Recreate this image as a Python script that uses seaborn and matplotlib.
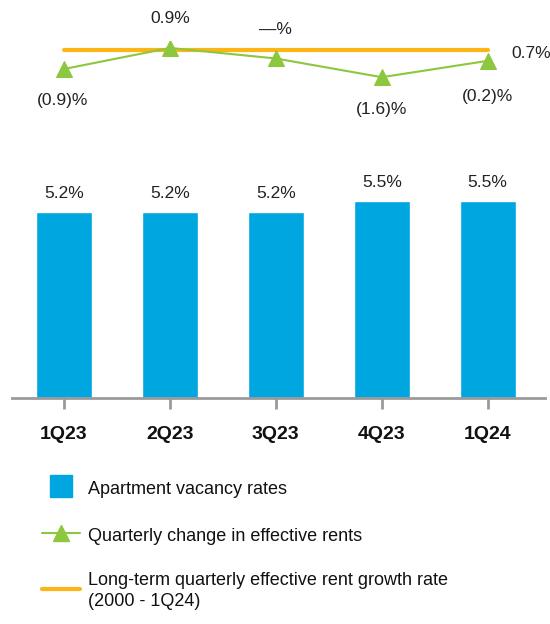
import numpy as np
import matplotlib
matplotlib.use("Agg")
import matplotlib.pyplot as plt
from matplotlib.lines import Line2D
import seaborn as sns

# data
quarters = ["1Q23", "2Q23", "3Q23", "4Q23", "1Q24"]
vacancy = [5.2, 5.2, 5.2, 5.5, 5.5]
rent_change = [-0.9, 0.9, 0.0, -1.6, -0.2]
rent_labels = ["(0.9)%", "0.9%", "—%", "(1.6)%", "(0.2)%"]
long_term_rate = 0.7

blue = "#00A6E0"
green = "#8DC63F"
orange = "#FDB515"

sns.set_style("white")
plt.rcParams["font.family"] = ["Liberation Sans", "DejaVu Sans"]

fig = plt.figure(figsize=(5.5, 6.24), dpi=100)
ax_bar = fig.add_axes([0.0218, 0.3622, 0.969, 0.3446])
ax_line = fig.add_axes([0.0218, 0.8594, 0.969, 0.075])

x = np.arange(len(quarters))

# bars
sns.barplot(x=quarters, y=vacancy, color=blue, width=0.53, saturation=1, ax=ax_bar)
ax_bar.set_xlim(-0.49, 4.54)
ax_bar.set_ylim(0, 6)
for i, v in enumerate(vacancy):
    ax_bar.annotate(f"{v:.1f}%", (i, v), xytext=(0, 8), textcoords="offset points",
                    ha="center", va="bottom", fontsize=12.5, color="#222222")
for s in ["top", "right", "left"]:
    ax_bar.spines[s].set_visible(False)
ax_bar.spines["bottom"].set_color("#9a9a9a")
ax_bar.spines["bottom"].set_linewidth(2)
ax_bar.set_yticks([])
ax_bar.tick_params(axis="x", bottom=True, length=8, width=2, color="#9a9a9a", pad=12,
                   labelsize=14)
for lab in ax_bar.get_xticklabels():
    lab.set_fontweight("bold")
    lab.set_color("#111111")

# lines
sns.lineplot(x=[x[0], x[-1]], y=[long_term_rate, long_term_rate], color=orange,
             linewidth=3, ax=ax_line)
sns.lineplot(x=x, y=rent_change, color=green, linewidth=1.5, marker="^", markersize=11,
             markeredgecolor=green, ax=ax_line)
ax_line.set_xlim(-0.49, 4.54)
ax_line.set_ylim(-2.5, 1.5)
ax_line.axis("off")

offsets = [(-1, -23), (0, 21), (0, 21), (0, -23), (0, -26)]
for i, (v, lab) in enumerate(zip(rent_change, rent_labels)):
    dx, dy = offsets[i]
    ax_line.annotate(lab, (i, v), xytext=(dx, dy), textcoords="offset points",
                     ha="center", va="center", fontsize=12.5, color="#222222")
ax_line.annotate(f"{long_term_rate:.1f}%", (x[-1], long_term_rate), xytext=(31, -2),
                 textcoords="offset points", ha="center", va="center", fontsize=12.5,
                 color="#222222")

# legend
handles = [
    Line2D([0], [0], color=blue, linestyle="none", marker="s", markersize=16.5),
    Line2D([0], [0], color=green, linewidth=1.5, marker="^", markersize=11),
    Line2D([0], [0], color=orange, linewidth=3),
]
labels = [
    "Apartment vacancy rates",
    "Quarterly change in effective rents",
    "Long-term quarterly effective rent growth rate\n(2000 - 1Q24)",
]
leg = fig.legend(handles, labels, loc="upper left", bbox_to_anchor=(0.047, 0.26),
                 frameon=False, fontsize=13, labelspacing=1.45, handlelength=2.1,
                 handleheight=1.4, handletextpad=0.45, labelcolor="#111111")
for t in leg.get_texts():
    t.set_linespacing(1.3)

fig.savefig("out.png", dpi=100)
